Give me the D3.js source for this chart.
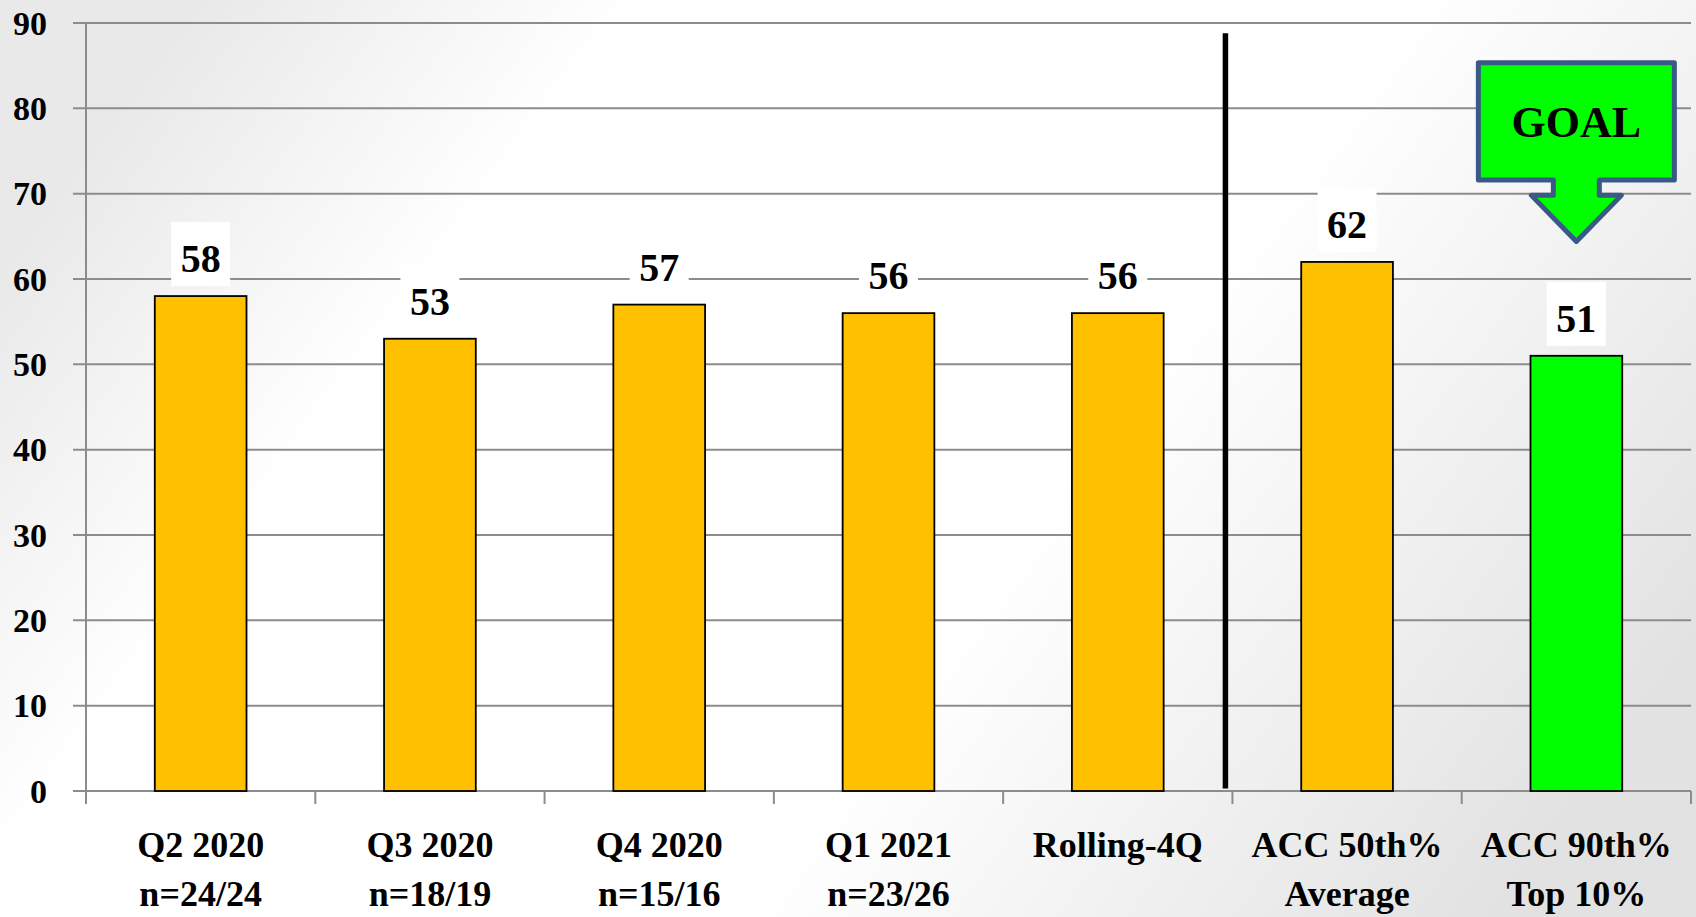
<!DOCTYPE html>
<html>
<head>
<meta charset="utf-8">
<script src="https://cdn.jsdelivr.net/npm/d3@7"></script>
<style>
    html, body { margin: 0; padding: 0; overflow: hidden; }
    svg { display: block; }
    text { font-family: 'Liberation Serif', 'Times New Roman', serif; font-weight: bold; fill: #000; }
</style>
</head>
<body>
<div id="chart"></div>
<script>
const categories = ['Q2 2020', 'Q3 2020', 'Q4 2020', 'Q1 2021', 'Rolling-4Q', 'ACC 50th%', 'ACC 90th%'];
const subLabels = ['n=24/24', 'n=18/19', 'n=15/16', 'n=23/26', '', 'Average', 'Top 10%'];
const values = [58, 53, 57, 56, 56, 62, 51];
const yTicks = [0, 10, 20, 30, 40, 50, 60, 70, 80, 90];
const goalCategory = 'ACC 90th%';
const dividerAfter = 'Rolling-4Q';

(() => {
    const svgWidth = 1696;
    const svgHeight = 917;

    const margin = { top: 23, left: 86, right: 5, bottom: 126 };
    const width = svgWidth - margin.left - margin.right;
    const height = svgHeight - margin.top - margin.bottom;

    const svg = d3.select('#chart').append('svg')
        .attr('width', svgWidth)
        .attr('height', svgHeight);

    // background gradient: grey edges, white middle
    const defs = svg.append('defs');
    const grad = defs.append('linearGradient')
        .attr('id', 'bg')
        .attr('x1', '0').attr('y1', '0.3')
        .attr('x2', '1').attr('y2', '0.7');
    grad.append('stop').attr('offset', '0%').attr('stop-color', '#e9e9e9');
    grad.append('stop').attr('offset', '22%').attr('stop-color', '#ffffff');
    grad.append('stop').attr('offset', '62%').attr('stop-color', '#ffffff');
    grad.append('stop').attr('offset', '100%').attr('stop-color', '#e2e2e2');

    svg.append('rect')
        .attr('width', svgWidth)
        .attr('height', svgHeight)
        .attr('fill', 'url(#bg)');

    const x = d3.scaleBand()
        .domain(categories)
        .range([0, width])
        .paddingInner(0.6)
        .paddingOuter(0.3);

    const y = d3.scaleLinear()
        .domain([0, 90])
        .range([height, 0]);

    const chart = svg.append('g')
        .attr('transform', `translate(${margin.left},${margin.top})`);

    // gridlines
    chart.append('g')
        .selectAll('line')
        .data(yTicks)
        .enter()
        .append('line')
        .attr('x1', -13)
        .attr('x2', width)
        .attr('y1', d => y(d))
        .attr('y2', d => y(d))
        .attr('stroke', '#8c8c8c')
        .attr('stroke-width', 2);

    // y axis line
    chart.append('line')
        .attr('x1', 0).attr('x2', 0)
        .attr('y1', 0).attr('y2', height)
        .attr('stroke', '#8c8c8c')
        .attr('stroke-width', 2);

    // y tick labels
    chart.append('g')
        .selectAll('text')
        .data(yTicks)
        .enter()
        .append('text')
        .attr('x', -39)
        .attr('y', d => y(d))
        .attr('dy', '0.34em')
        .style('text-anchor', 'end')
        .style('font-size', '34px')
        .text(d => d);

    // x axis ticks at band boundaries
    const step = x.step();
    const boundaries = d3.range(categories.length + 1).map(i => i * step);
    chart.append('g')
        .selectAll('line')
        .data(boundaries)
        .enter()
        .append('line')
        .attr('x1', d => d).attr('x2', d => d)
        .attr('y1', height).attr('y2', height + 13)
        .attr('stroke', '#8c8c8c')
        .attr('stroke-width', 2);

    // bars
    chart.append('g')
        .selectAll('rect')
        .data(categories)
        .enter()
        .append('rect')
        .attr('x', d => x(d))
        .attr('y', (d, i) => y(values[i]))
        .attr('width', x.bandwidth())
        .attr('height', (d, i) => height - y(values[i]))
        .attr('fill', d => d === goalCategory ? '#00ff00' : '#ffc000')
        .attr('stroke', '#000')
        .attr('stroke-width', 1.8);

    // value labels with white boxes
    const labels = chart.append('g')
        .selectAll('g')
        .data(categories)
        .enter()
        .append('g')
        .attr('transform', (d, i) => `translate(${x(d) + x.bandwidth() / 2},${y(values[i]) - 24})`);

    labels.append('rect')
        .attr('x', -29.5)
        .attr('y', -50)
        .attr('width', 59)
        .attr('height', 64)
        .attr('fill', '#fff');

    labels.append('text')
        .style('text-anchor', 'middle')
        .style('font-size', '40px')
        .text((d, i) => values[i]);

    // divider line
    const divX = x(dividerAfter) + x.bandwidth() + (step - x.bandwidth()) / 2 - 7;
    chart.append('line')
        .attr('x1', divX).attr('x2', divX)
        .attr('y1', y(88.8)).attr('y2', y(0.3))
        .attr('stroke', '#000')
        .attr('stroke-width', 5.5);

    // category labels
    const catLabels = chart.append('g')
        .selectAll('text')
        .data(categories)
        .enter()
        .append('text')
        .attr('x', d => x(d) + x.bandwidth() / 2)
        .attr('y', height + 66)
        .style('text-anchor', 'middle')
        .style('font-size', '36px');

    catLabels.append('tspan')
        .text(d => d);

    catLabels.append('tspan')
        .attr('x', d => x(d) + x.bandwidth() / 2)
        .attr('dy', 49)
        .text((d, i) => subLabels[i]);

    // goal callout arrow
    const gx = x(goalCategory) + x.bandwidth() / 2;
    const boxLeft = gx - 98, boxRight = gx + 98;
    const boxTop = y(85.35), boxBottom = y(71.6);
    const stemHalf = 23, headHalf = 45;
    const headTop = y(69.8), tip = y(64.4);
    const arrowPath = d3.path();
    arrowPath.moveTo(boxLeft, boxTop);
    arrowPath.lineTo(boxRight, boxTop);
    arrowPath.lineTo(boxRight, boxBottom);
    arrowPath.lineTo(gx + stemHalf, boxBottom);
    arrowPath.lineTo(gx + stemHalf, headTop);
    arrowPath.lineTo(gx + headHalf, headTop);
    arrowPath.lineTo(gx, tip);
    arrowPath.lineTo(gx - headHalf, headTop);
    arrowPath.lineTo(gx - stemHalf, headTop);
    arrowPath.lineTo(gx - stemHalf, boxBottom);
    arrowPath.lineTo(boxLeft, boxBottom);
    arrowPath.closePath();

    chart.append('path')
        .attr('d', arrowPath.toString())
        .attr('fill', '#00ff00')
        .attr('stroke', '#3a5a86')
        .attr('stroke-width', 5)
        .attr('stroke-linejoin', 'round');

    chart.append('text')
        .attr('x', gx)
        .attr('y', y(76.6))
        .style('text-anchor', 'middle')
        .style('font-size', '44px')
        .text('GOAL');
})();
</script>
</body>
</html>
